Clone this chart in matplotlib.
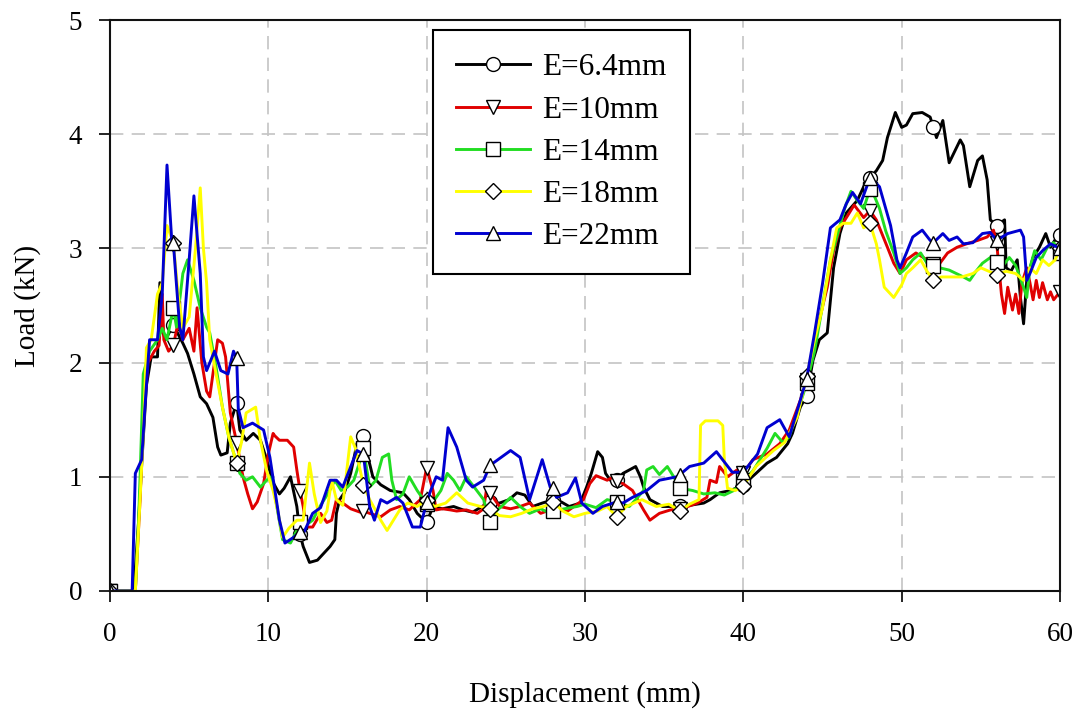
import numpy as np
import matplotlib
matplotlib.use("Agg")
import matplotlib.pyplot as plt

plt.rcParams['font.family'] = ['Liberation Serif', 'DejaVu Serif']

# Load-displacement curves for each E value (displacement in mm, load in kN)
x_64 = [0, 1.0, 1.5, 1.8, 2.0, 2.3, 2.6, 3.0, 3.15, 3.25, 3.5, 4.0, 4.6, 4.9, 5.3, 5.7, 6.1, 6.5, 6.8, 7.0,
        7.4, 7.6, 7.8, 8.0, 8.2, 8.6, 9.05, 9.5, 9.9, 10.3, 10.7, 11.0, 11.4, 11.8, 12.0, 12.2, 12.6, 13.1,
        13.5, 13.9, 14.2, 14.3, 14.5, 14.8, 15.2, 15.6, 16.0, 16.3, 16.6, 17.1, 17.7, 18.5, 18.9, 19.4, 20.0,
        20.4, 21.0, 21.7, 22.3, 22.9, 23.5, 24.0, 24.6, 25.2, 25.7, 26.2, 26.7, 27.3, 28.0, 28.5, 29.0, 29.7,
        30.1, 30.4, 30.8, 31.1, 31.3, 31.6, 32.0, 32.4, 32.8, 33.2, 33.5, 33.7, 34.1, 34.9, 35.8, 36.0, 36.6,
        37.5, 37.9, 38.5, 39.2, 40.0, 40.8, 41.5, 42.1, 42.8, 43.1, 43.6, 44.0, 44.4, 44.8, 45.3, 45.5, 45.7,
        46.1, 46.5, 47.2, 47.8, 48.0, 48.4, 48.8, 49.1, 49.6, 50.0, 50.3, 50.7, 51.3, 51.8, 52.0, 52.2, 52.6,
        53.0, 53.7, 53.9, 54.3, 54.8, 55.1, 55.4, 55.6, 56.0, 56.2, 56.5, 56.6, 56.9, 57.3, 57.5, 57.7, 57.9,
        58.3, 58.7, 59.1, 59.4, 59.8, 60.0]
y_64 = [0, 0, 0, 0.6, 1.1, 1.8, 2.05, 2.05, 2.7, 2.3, 2.2, 2.33, 2.17, 2.08, 1.9, 1.7, 1.64, 1.52, 1.26, 1.19,
        1.21, 1.47, 1.56, 1.65, 1.41, 1.32, 1.38, 1.32, 1.15, 0.95, 0.85, 0.9, 1.0, 0.74, 0.5, 0.39, 0.25, 0.27,
        0.33, 0.39, 0.45, 0.68, 0.8, 0.86, 1.03, 1.29, 1.36, 1.17, 1.0, 0.93, 0.88, 0.86, 0.8, 0.68, 0.6,
        0.74, 0.72, 0.74, 0.71, 0.69, 0.74, 0.78, 0.77, 0.8, 0.86, 0.84, 0.74, 0.77, 0.8, 0.78, 0.74, 0.77,
        0.91, 1.03, 1.22, 1.17, 1.03, 0.97, 0.97, 1.03, 1.06, 1.09, 1.0, 0.91, 0.8, 0.74, 0.74, 0.74, 0.75,
        0.77, 0.8, 0.86, 0.88, 0.93, 1.03, 1.12, 1.17, 1.29, 1.38, 1.61, 1.71, 2.02, 2.2, 2.26, 2.55, 2.83,
        3.13, 3.31, 3.42, 3.6, 3.62, 3.68, 3.77, 3.97, 4.19, 4.06, 4.08, 4.18, 4.19, 4.15, 4.06, 3.97, 4.12,
        3.75, 3.95, 3.9, 3.54, 3.77, 3.81, 3.6, 3.25, 3.2, 3.22, 3.25, 2.83, 2.8, 2.9, 2.57, 2.34, 2.72,
        2.92, 3.01, 3.13, 3.01, 3.1, 3.12]

x_10 = [0, 1.0, 1.6, 1.9, 2.1, 2.4, 2.8, 3.1, 3.3, 3.4, 3.7, 4.0, 4.3, 4.6, 5.0, 5.3, 5.5, 5.8, 6.1, 6.3,
        6.6, 6.8, 7.1, 7.3, 7.6, 8.0, 8.4, 8.7, 9.0, 9.3, 9.7, 10.0, 10.3, 10.4, 10.7, 11.2, 11.6, 11.8, 12.0,
        12.2, 12.4, 12.8, 13.3, 13.7, 14.0, 14.3, 14.7, 15.2, 15.8, 16.0, 16.4, 17.1, 17.7, 18.3, 18.9, 19.6,
        20.0, 20.4, 20.6, 21.0, 21.5, 21.9, 22.5, 23.2, 23.6, 23.8, 24.0, 24.6, 25.3, 25.9, 26.5, 27.2, 28.0,
        28.2, 28.9, 29.9, 30.3, 30.7, 31.4, 31.8, 32.0, 32.4, 33.0, 33.7, 34.1, 34.7, 35.4, 36.0, 36.5, 37.1,
        37.7, 37.9, 38.3, 38.5, 39.0, 39.6, 40.0, 40.6, 41.5, 42.3, 42.9, 43.6, 44.0, 44.2, 44.6, 45.3, 45.7,
        46.1, 46.6, 47.0, 47.6, 48.0, 48.4, 49.1, 49.5, 49.9, 50.3, 50.9, 51.6, 52.0, 52.2, 52.9, 53.5, 54.1,
        54.8, 55.4, 55.8, 56.0, 56.1, 56.3, 56.5, 56.7, 57.0, 57.2, 57.4, 57.6, 57.9, 58.1, 58.3, 58.5, 58.7,
        58.9, 59.2, 59.4, 59.6, 60.0]
y_10 = [0, 0, 0, 0.8, 1.5, 2.0, 2.1, 2.15, 2.6, 2.2, 2.1, 2.15, 2.35, 2.2, 2.3, 2.1, 2.48, 2.0, 1.75, 1.7,
        2.0, 2.2, 2.17, 2.05, 1.56, 1.3, 1.0, 0.85, 0.72, 0.78, 0.94, 1.2, 1.38, 1.36, 1.32, 1.32, 1.26, 1.06,
        0.88, 0.74, 0.56, 0.56, 0.68, 0.6, 0.62, 0.8, 0.77, 0.72, 0.69, 0.7, 0.68, 0.65, 0.71, 0.74, 0.71,
        0.8, 1.08, 0.88, 0.71, 0.72, 0.71, 0.7, 0.71, 0.68, 0.72, 0.91, 0.86, 0.74, 0.72, 0.74, 0.77, 0.68,
        0.72, 0.71, 0.7, 0.8, 0.94, 1.01, 0.97, 1.0, 0.96, 0.94, 0.88, 0.71, 0.62, 0.68, 0.71, 0.72, 0.74,
        0.77, 0.82, 0.97, 0.95, 1.09, 1.0, 1.06, 1.03, 1.15, 1.2, 1.29, 1.41, 1.67, 1.85, 1.96, 2.26, 2.66,
        2.98, 3.18, 3.29, 3.38, 3.27, 3.33, 3.25, 3.01, 2.87, 2.78, 2.9, 2.96, 2.9, 2.86, 2.83, 2.96, 3.01,
        3.04, 3.07, 3.1, 3.16, 3.05, 2.9, 2.6, 2.43, 2.66, 2.46, 2.6, 2.43, 2.7, 2.83, 2.7, 2.55, 2.72, 2.57,
        2.7, 2.55, 2.62, 2.55, 2.62]

x_14 = [0, 1.0, 1.6, 1.8, 1.9, 2.1, 2.5, 3.0, 3.3, 3.6, 4.0, 4.2, 4.6, 4.9, 5.3, 5.7, 6.1, 6.3, 6.7, 7.1,
        7.5, 8.0, 8.2, 8.6, 9.0, 9.5, 9.9, 10.1, 10.4, 10.9, 11.4, 11.8, 12.0, 12.4, 12.8, 13.3, 13.8, 14.2,
        14.6, 15.0, 15.4, 15.7, 16.0, 16.4, 16.8, 17.2, 17.6, 17.8, 18.1, 18.5, 18.9, 19.4, 20.0, 20.5, 20.9,
        21.3, 21.7, 22.1, 22.5, 23.0, 23.6, 24.0, 24.4, 24.8, 25.3, 25.9, 26.5, 27.2, 27.8, 28.0, 28.7, 29.5,
        30.0, 30.7, 31.4, 32.0, 32.8, 33.2, 33.7, 33.9, 34.3, 34.7, 35.2, 35.6, 36.0, 36.8, 37.5, 38.2, 38.8,
        39.4, 40.0, 40.6, 41.5, 42.0, 42.5, 42.9, 43.5, 44.0, 44.5, 45.0, 45.5, 46.0, 46.4, 46.8, 47.2, 47.6,
        48.0, 48.3, 48.6, 49.0, 49.5, 49.9, 50.3, 50.7, 51.2, 51.6, 52.0, 52.4, 53.0, 53.9, 54.3, 54.7, 55.1,
        55.6, 56.0, 56.4, 56.8, 57.2, 57.7, 57.9, 58.1, 58.4, 58.8, 59.2, 59.6, 60.0]
y_14 = [0, 0, 0, 0.6, 1.0, 1.9, 2.1, 2.2, 2.3, 2.2, 2.48, 2.31, 2.78, 2.9, 2.72, 2.48, 2.31, 2.26, 1.96, 1.61,
        1.35, 1.12, 1.03, 0.97, 1.0, 0.91, 0.97, 1.0, 0.85, 0.45, 0.42, 0.53, 0.6, 0.58, 0.62, 0.75, 0.86,
        0.97, 0.88, 0.91, 0.97, 1.1, 1.25, 0.91, 0.97, 1.17, 1.2, 0.97, 0.8, 0.85, 1.0, 0.88, 0.76, 0.8, 0.88,
        1.03, 0.97, 0.88, 1.0, 0.91, 0.8, 0.6, 0.7, 0.75, 0.82, 0.74, 0.68, 0.72, 0.68, 0.7, 0.72, 0.74,
        0.76, 0.73, 0.8, 0.78, 0.74, 0.8, 0.88, 1.06, 1.09, 1.02, 1.09, 1.0, 0.9, 0.88, 0.85, 0.86, 0.84,
        0.88, 0.97, 1.05, 1.25, 1.38, 1.3, 1.35, 1.6, 1.82, 2.1, 2.5, 2.9, 3.15, 3.35, 3.5, 3.42, 3.35,
        3.52, 3.45, 3.35, 3.15, 2.96, 2.78, 2.83, 2.9, 2.96, 2.87, 2.85, 2.83, 2.81, 2.75, 2.72, 2.8, 2.87,
        2.92, 2.88, 2.85, 2.92, 2.85, 2.66, 2.57, 2.83, 2.98, 2.9, 3.01, 3.05, 2.96]

x_18 = [0, 1.0, 1.6, 1.9, 2.1, 2.3, 2.6, 3.0, 3.3, 3.6, 4.0, 4.3, 4.6, 5.0, 5.4, 5.7, 5.9, 6.1, 6.3, 6.7,
        7.1, 7.5, 8.0, 8.3, 8.6, 9.2, 9.5, 9.9, 10.3, 10.6, 10.9, 11.3, 11.8, 12.2, 12.6, 12.9, 13.3, 13.7,
        14.0, 14.3, 14.7, 15.2, 15.5, 16.0, 16.4, 16.8, 17.1, 17.5, 17.9, 18.3, 18.8, 19.4, 20.0, 20.5, 21.2,
        21.9, 22.6, 23.4, 24.0, 24.6, 25.3, 26.0, 26.7, 27.4, 28.0, 28.6, 29.3, 30.0, 30.8, 31.4, 32.0, 32.6,
        33.6, 34.5, 35.3, 36.0, 36.6, 37.2, 37.3, 37.6, 38.4, 38.7, 38.8, 39.0, 39.5, 40.0, 40.8, 41.9, 42.6,
        43.4, 44.0, 44.5, 45.0, 45.5, 45.9, 46.3, 46.8, 47.2, 47.6, 48.0, 48.4, 48.6, 48.9, 49.5, 50.0, 50.3,
        50.7, 51.2, 51.6, 52.0, 52.5, 53.0, 53.8, 54.5, 55.0, 55.5, 56.0, 56.6, 57.2, 57.7, 58.1, 58.5, 58.9,
        59.3, 59.7, 60.0]
y_18 = [0, 0, 0, 0.8, 1.38, 2.13, 2.2, 2.6, 2.7, 3.2, 3.05, 2.6, 2.3, 2.4, 3.0, 3.53, 3.0, 2.7, 2.2, 1.9,
        1.61, 1.35, 1.12, 1.3, 1.56, 1.61, 1.32, 1.05, 0.88, 0.7, 0.47, 0.55, 0.62, 0.62, 1.12, 0.85, 0.6,
        0.7, 0.97, 0.8, 0.75, 1.35, 1.25, 0.93, 0.8, 0.7, 0.62, 0.53, 0.62, 0.71, 0.77, 0.74, 0.8, 0.74, 0.77,
        0.86, 0.77, 0.74, 0.72, 0.66, 0.65, 0.68, 0.72, 0.74, 0.78, 0.7, 0.65, 0.68, 0.7, 0.74, 0.65, 0.74,
        0.8, 0.74, 0.76, 0.7, 0.76, 0.8, 1.45, 1.49, 1.49, 1.45, 1.15, 0.9, 0.88, 0.92, 1.09, 1.23, 1.3,
        1.52, 1.88, 2.2, 2.48, 2.9, 3.18, 3.22, 3.22, 3.31, 3.18, 3.22, 3.04, 2.9, 2.66, 2.57, 2.68, 2.78,
        2.83, 2.9, 2.8, 2.72, 2.75, 2.75, 2.75, 2.78, 2.83, 2.8, 2.77, 2.8, 2.78, 2.72, 2.83, 2.78, 2.9,
        2.85, 2.9, 3.0]

x_22 = [0, 1.0, 1.4, 1.6, 2.0, 2.2, 2.5, 3.0, 3.3, 3.6, 3.9, 4.0, 4.4, 4.6, 5.0, 5.3, 5.7, 5.9, 6.1, 6.6,
        7.0, 7.45, 7.8, 8.0, 8.1, 8.4, 9.0, 9.7, 10.1, 10.7, 11.05, 11.6, 12.0, 12.2, 12.8, 13.3, 13.9, 14.3,
        14.7, 15.6, 16.0, 16.4, 16.7, 17.1, 17.5, 18.1, 18.5, 19.1, 19.6, 20.0, 20.2, 20.6, 21.0, 21.35, 21.9,
        22.5, 22.9, 23.6, 24.0, 24.2, 25.3, 25.9, 26.5, 27.3, 27.8, 28.0, 28.2, 28.9, 29.4, 29.8, 30.5, 31.1,
        32.0, 32.4, 33.0, 33.9, 34.7, 35.8, 36.0, 36.6, 37.5, 38.3, 39.3, 40.0, 40.9, 41.5, 42.3, 42.9, 43.6,
        44.0, 44.5, 45.0, 45.5, 46.1, 46.5, 46.9, 47.4, 48.0, 48.6, 49.3, 49.7, 49.9, 50.3, 50.7, 51.3, 51.8,
        52.0, 52.6, 53.0, 53.5, 53.9, 54.5, 55.1, 55.6, 56.0, 56.7, 57.5, 57.7, 57.9, 58.1, 58.5, 58.9, 59.4,
        60.0]
y_22 = [0, 0, 0, 1.03, 1.15, 1.6, 2.2, 2.2, 2.6, 3.73, 3.07, 3.05, 2.31, 2.2, 2.9, 3.46, 2.78, 2.05, 1.93, 2.1,
        1.93, 1.9, 2.1, 2.04, 1.6, 1.43, 1.47, 1.41, 1.17, 0.62, 0.42, 0.47, 0.52, 0.5, 0.68, 0.73, 0.97, 0.97,
        0.91, 1.23, 1.2, 0.74, 0.62, 0.8, 0.77, 0.82, 0.77, 0.56, 0.56, 0.78, 0.86, 1.0, 0.97, 1.43, 1.26,
        0.97, 0.91, 0.97, 1.1, 1.12, 1.23, 1.17, 0.8, 1.15, 0.91, 0.9, 0.82, 0.86, 0.99, 0.77, 0.68, 0.74,
        0.78, 0.77, 0.82, 0.88, 0.97, 1.0, 1.02, 1.09, 1.12, 1.22, 1.04, 1.04, 1.2, 1.43, 1.5, 1.35, 1.67,
        1.86, 2.26, 2.69, 3.18, 3.25, 3.39, 3.49, 3.39, 3.62, 3.54, 3.2, 2.9, 2.83, 2.96, 3.1, 3.16, 3.07,
        3.05, 3.13, 3.07, 3.1, 3.04, 3.05, 3.13, 3.14, 3.07, 3.13, 3.16, 3.1, 2.72, 2.78, 2.92, 2.98, 3.04,
        3.0]

labels = ['E=6.4mm', 'E=10mm', 'E=14mm', 'E=18mm', 'E=22mm']
colors = ['#000000', '#e00000', '#22dd22', '#ffff00', '#0000d0']
markers = ['o', 'v', 's', 'D', '^']
marker_sizes = [10, 10, 9.5, 8.5, 10]
series = [(x_64, y_64), (x_10, y_10), (x_14, y_14), (x_18, y_18), (x_22, y_22)]
marker_step = 4  # open symbols every 4 mm

fig = plt.figure(figsize=(10.83, 7.19), dpi=100)
ax = fig.add_axes([110 / 1083, 1 - 591 / 719, 950 / 1083, 571 / 719])

for (xs, ys), lab, col, mk, ms in zip(series, labels, colors, markers, marker_sizes):
    xs = np.asarray(xs, dtype=float)
    ys = np.asarray(ys, dtype=float)
    idx = [i for i, v in enumerate(xs) if abs(v / marker_step - round(v / marker_step)) < 1e-9]
    ax.plot(xs, ys, color=col, lw=2.1, label=lab, marker=mk, markevery=idx,
            markersize=ms, markerfacecolor='white', markeredgecolor='black',
            markeredgewidth=1.0)

ax.set_xlim(0, 60)
ax.set_ylim(0, 5)
ax.set_xticks(np.arange(0, 61, 10))
ax.set_yticks(np.arange(0, 6, 1))
ax.grid(True, color='#c4c4c4', linestyle=(0, (8, 5)), linewidth=1.2)
ax.set_axisbelow(True)
for s in ax.spines.values():
    s.set_linewidth(1.5)
    s.set_color('#111111')
ax.tick_params(direction='out', length=8, width=1.2, labelsize=19.5)
ax.tick_params(axis='x', pad=14)
ax.tick_params(axis='y', pad=12)

ax.set_xlabel('Displacement (mm)', fontsize=21, labelpad=25)
ax.set_ylabel('Load (kN)', fontsize=21, labelpad=20)

leg = ax.legend(loc='upper left', bbox_to_anchor=(0.34, 0.9825), fontsize=22.5,
                frameon=True, fancybox=False, framealpha=1, edgecolor='black',
                numpoints=1, handlelength=2.35, handletextpad=0.4, labelspacing=0.42,
                borderpad=0.75, borderaxespad=0)
leg.get_frame().set_linewidth(1.5)

fig.savefig('out.png', dpi=100)
